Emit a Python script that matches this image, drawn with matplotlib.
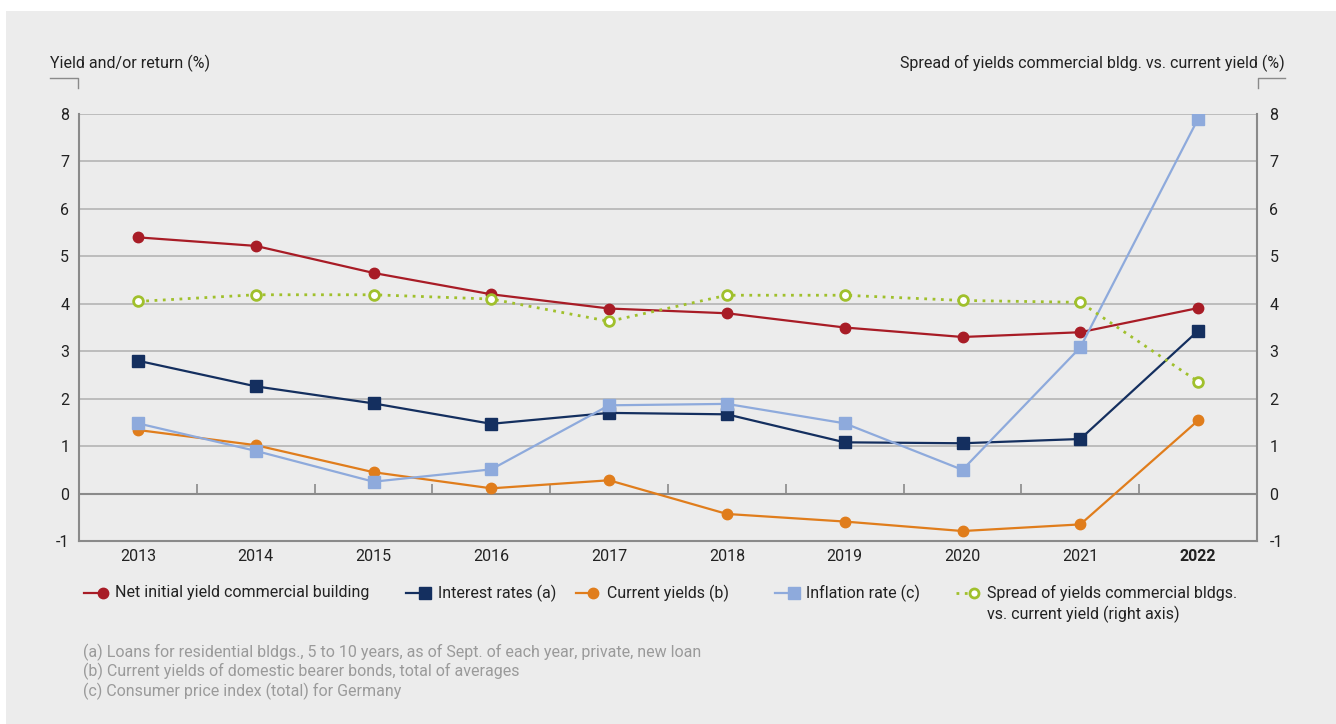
import matplotlib.pyplot as plt
from matplotlib.lines import Line2D
from matplotlib.patches import Rectangle

plt.rcParams['font.family'] = ['Roboto', 'DejaVu Sans']
plt.rcParams['axes.unicode_minus'] = False

years = ["2013", "2014", "2015", "2016", "2017", "2018", "2019", "2020", "2021", "2022"]
net_initial_yield = [5.4, 5.22, 4.65, 4.2, 3.9, 3.8, 3.5, 3.3, 3.4, 3.91]
interest_rates = [2.8, 2.26, 1.9, 1.47, 1.7, 1.67, 1.08, 1.06, 1.15, 3.43]
current_yields = [1.34, 1.02, 0.45, 0.11, 0.28, -0.43, -0.59, -0.79, -0.65, 1.54]
inflation_rate = [1.48, 0.9, 0.25, 0.51, 1.86, 1.89, 1.48, 0.5, 3.08, 7.9]
spread = [4.05, 4.19, 4.19, 4.1, 3.63, 4.18, 4.18, 4.07, 4.03, 2.36]

labels = [
    "Net initial yield commercial building",
    "Interest rates (a)",
    "Current yields (b)",
    "Inflation rate (c)",
    "Spread of yields commercial bldgs.\nvs. current yield (right axis)",
]
footnotes = [
    "(a) Loans for residential bldgs., 5 to 10 years, as of Sept. of each year, private, new loan",
    "(b) Current yields of domestic bearer bonds, total of averages",
    "(c) Consumer price index (total) for Germany",
]

RED = "#a81c26"
NAVY = "#142f5f"
ORANGE = "#e07d1c"
LBLUE = "#8eaadc"
GREEN = "#a0c02c"
BG = "#ececec"
GRID = "#b4b4b4"
SPINE = "#8a8a8a"
TXT = "#222222"
FS = 11.5

W, H = 1336, 724
fig = plt.figure(figsize=(W / 100, H / 100), dpi=100)
fig.patch.set_facecolor("white")
fig.patches.append(Rectangle((6 / W, 0), 1, 1 - 11 / H, transform=fig.transFigure,
                             facecolor=BG, edgecolor="none", zorder=-10))

ax = fig.add_axes([79 / W, 1 - 541 / H, (1257 - 79) / W, (541 - 114) / H])
ax.patch.set_alpha(0)
x = list(range(len(years)))

ax.set_xlim(-0.5, len(years) - 0.5)
ax.set_ylim(-1, 8)
ax.set_yticks(range(-1, 9))
for v in range(1, 9):
    ax.axhline(v, color=GRID, lw=1.2, zorder=1)
ax.axhline(0, color=SPINE, lw=1.5, zorder=1)
ax.vlines([i + 0.5 for i in x[:-1]], 0, 0.21, color=SPINE, lw=1.2, zorder=1)

ax.spines["top"].set_visible(False)
for s in ["left", "right", "bottom"]:
    ax.spines[s].set_color(SPINE)
    ax.spines[s].set_linewidth(1.5)

ax.set_xticks(x)
ax.set_xticklabels(years, fontsize=FS, color=TXT)
ax.get_xticklabels()[-1].set_fontweight("bold")
ax.tick_params(axis="x", length=0, pad=6)
ax.tick_params(axis="y", length=0, pad=7, labelsize=FS, labelcolor=TXT)

ax2 = ax.twinx()
ax2.set_ylim(-1, 8)
ax2.set_yticks(range(-1, 9))
ax2.tick_params(axis="y", length=0, pad=9, labelsize=FS, labelcolor=TXT)
for s in ["top", "left", "bottom", "right"]:
    ax2.spines[s].set_visible(False)

ax.plot(x, net_initial_yield, color=RED, lw=1.6, marker="o", ms=7.5, zorder=3)
ax.plot(x, interest_rates, color=NAVY, lw=1.6, marker="s", ms=8, zorder=3)
ax.plot(x, current_yields, color=ORANGE, lw=1.6, marker="o", ms=7.5, zorder=3)
ax.plot(x, inflation_rate, color=LBLUE, lw=1.6, marker="s", ms=8, zorder=4)
ax2.plot(x, spread, color=GREEN, lw=2, ls=(0, (1, 2)), marker="o", ms=7,
         mfc="white", mec=GREEN, mew=2, zorder=5)

# axis titles with small brackets
fig.text(50 / W, 1 - 63 / H, "Yield and/or return (%)", fontsize=FS, color=TXT,
         ha="left", va="center")
fig.text(1285 / W, 1 - 63 / H, "Spread of yields commercial bldg. vs. current yield (%)",
         fontsize=FS, color=TXT, ha="right", va="center")
fig.add_artist(Line2D([50 / W, 78 / W, 78 / W], [1 - 78 / H, 1 - 78 / H, 1 - 88 / H],
                      color=SPINE, lw=1))
fig.add_artist(Line2D([1285 / W, 1258 / W, 1258 / W], [1 - 78 / H, 1 - 78 / H, 1 - 88 / H],
                      color=SPINE, lw=1))

# legend: line then marker at its right end, then text
leg_y = 1 - 593 / H
leg_x = [(84, 103, 115), (406, 425, 438), (576, 593, 607), (775, 794, 806), (956, 974, 987)]
styles = [
    dict(color=RED, marker="o", ms=7.5),
    dict(color=NAVY, marker="s", ms=8),
    dict(color=ORANGE, marker="o", ms=7.5),
    dict(color=LBLUE, marker="s", ms=8),
    dict(color=GREEN, marker="o", ms=6.5, mfc="white", mec=GREEN, mew=2),
]
for (x0, xm, xt), st, lab in zip(leg_x, styles, labels):
    ls = (0, (1, 2)) if st["color"] == GREEN else "-"
    lw = 2 if st["color"] == GREEN else 1.6
    fig.add_artist(Line2D([x0 / W, xm / W], [leg_y, leg_y], color=st["color"], lw=lw, ls=ls))
    fig.add_artist(Line2D([xm / W], [leg_y], ls="none", **st))
    fig.text(xt / W, leg_y + 8 / H, lab, fontsize=FS, color=TXT, ha="left", va="top",
             linespacing=1.35)

for i, t in enumerate(footnotes):
    fig.text(83 / W, 1 - (652 + 19.5 * i) / H, t, fontsize=FS, color="#9a9a9a",
             ha="left", va="center")

fig.savefig("out.png", dpi=100, facecolor=fig.get_facecolor())
